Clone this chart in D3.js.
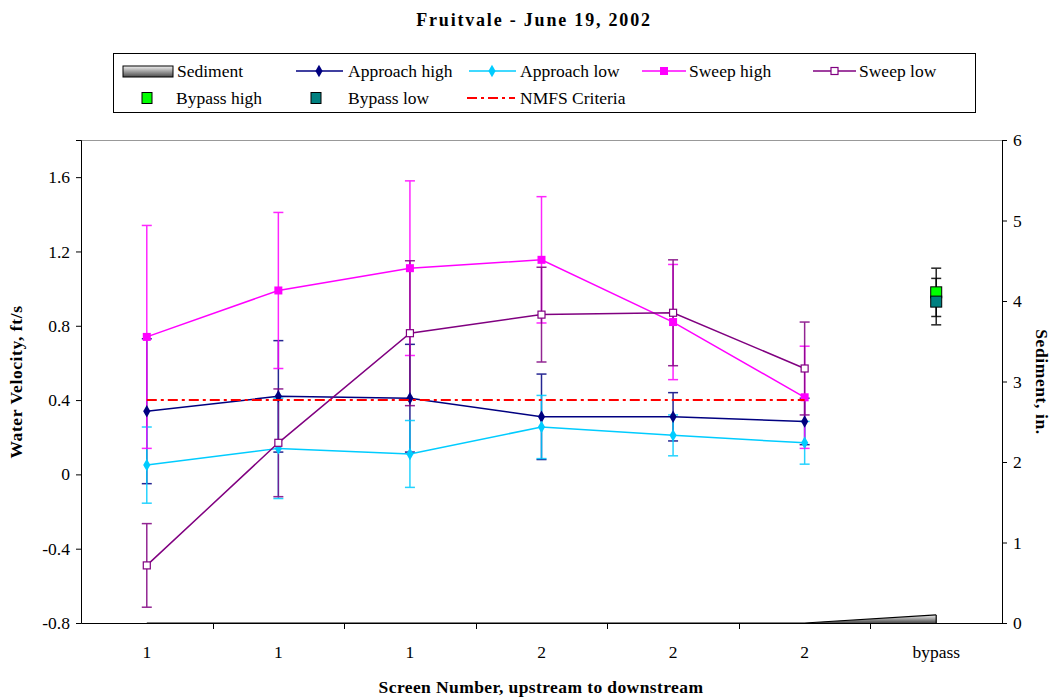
<!DOCTYPE html>
<html><head><meta charset="utf-8">
<script src="https://cdn.jsdelivr.net/npm/d3@7"></script>
<style>body{margin:0;background:#fff}svg{display:block}text{font-family:"Liberation Serif","Times New Roman",serif}</style>
</head><body><svg id="c" width="1055" height="698"></svg>
<script>
const categories = ["1","1","1","2","2","2","bypass"];
const approachHigh = [0.34,0.42,0.41,0.31,0.31,0.285];
const approachHighErr = [0.39,0.30,0.29,0.23,0.13,0.125];
const approachLow = [0.05,0.14,0.11,0.255,0.21,0.17];
const approachLowErr = [0.205,0.27,0.18,0.17,0.11,0.115];
const sweepHigh = [0.74,0.99,1.11,1.155,0.82,0.415];
const sweepHighErr = [0.60,0.42,0.47,0.34,0.31,0.275];
const sweepLow = [-0.49,0.17,0.76,0.86,0.87,0.57];
const sweepLowErr = [0.225,0.29,0.39,0.255,0.285,0.25];
const bypassHigh = [0.98]; const bypassHighErr = [0.13];
const bypassLow = [0.93]; const bypassLowErr = [0.125];
const sediment = [0,0,0,0,0,0,0.1];
const nmfs = [0.4,0.4,0.4,0.4,0.4,0.4];
const leftTicks = [-0.8,-0.4,0,0.4,0.8,1.2,1.6];
const leftTickLabels = ["-0.8","-0.4","0","0.4","0.8","1.2","1.6"];
const rightTicks = [0,1,2,3,4,5,6];

const svg = d3.select("#c");
const L=81,R=1002,T=140,B=623;
const x = d3.scaleBand().domain(d3.range(categories.length)).range([L,R]);
const cx = i => x(i)+x.bandwidth()/2;
const y = d3.scaleLinear().domain([-0.8,1.8]).range([B,T]);
const y2 = d3.scaleLinear().domain([0,6]).range([B,T]);

const defs = svg.append("defs");
const g1 = defs.append("linearGradient").attr("id","sed").attr("x1",0).attr("y1",0).attr("x2",0).attr("y2",1);
g1.append("stop").attr("offset","0%").attr("stop-color","#f2f2f2");
g1.append("stop").attr("offset","100%").attr("stop-color","#4a4a4a");

// title
svg.append("text").attr("x",534).attr("y",26).attr("text-anchor","middle").attr("font-size",18).attr("font-weight","bold").attr("letter-spacing","1.8px").text("Fruitvale - June 19, 2002");

// plot frame top
svg.append("line").attr("x1",L).attr("x2",R).attr("y1",T+0.5).attr("y2",T+0.5).attr("stroke","#999");

// sediment area
const area = d3.area().x((d,i)=>cx(i)).y0(y2(0)).y1(d=>y2(d));
svg.append("path").datum(sediment).attr("d",area).attr("fill","url(#sed)");
const lastI = sediment.length-1;
svg.append("path").datum(sediment).attr("d",d3.line().x((d,i)=>cx(i)).y(d=>y2(d))).attr("fill","none").attr("stroke","#000").attr("stroke-width",1.2);
svg.append("line").attr("x1",cx(lastI)).attr("x2",cx(lastI)).attr("y1",y2(sediment[lastI])).attr("y2",y2(0)).attr("stroke","#000").attr("stroke-width",1.2);

// axes
const ax = svg.append("g").attr("transform",`translate(0,${B})`).call(d3.axisBottom(x).tickSize(0).tickFormat(i=>categories[i]));
ax.select(".domain").attr("stroke","#000");
ax.selectAll("text").attr("font-size",17.5).attr("dy","1.85em").attr("fill","#000");
svg.append("g").selectAll("line").data(d3.range(1,categories.length)).join("line")
  .attr("x1",i=>Math.round(x(i))+0.5).attr("x2",i=>Math.round(x(i))+0.5).attr("y1",B).attr("y2",B+6).attr("stroke","#000");

const ay = svg.append("g").attr("transform",`translate(${L},0)`).call(d3.axisLeft(y).tickValues(leftTicks).tickSize(5).tickFormat((d,i)=>leftTickLabels[i]));
ay.select(".domain").attr("stroke","#000");
ay.selectAll("text").attr("font-size",17.5).attr("x",-11).attr("fill","#000");
ay.selectAll(".tick line").attr("stroke","#000");
const ay2 = svg.append("g").attr("transform",`translate(${R},0)`).call(d3.axisRight(y2).tickValues(rightTicks).tickSize(5).tickFormat(d3.format("d")));
ay2.select(".domain").attr("stroke","#000");
ay2.selectAll("text").attr("font-size",17.5).attr("x",11).attr("fill","#000");
ay2.selectAll(".tick line").attr("stroke","#000");

// axis titles
svg.append("text").attr("transform","translate(22,382) rotate(-90)").attr("text-anchor","middle").attr("font-size",17.5).attr("font-weight","bold").attr("letter-spacing","0.6px").text("Water Velocity, ft/s");
svg.append("text").attr("transform","translate(1036,382) rotate(90)").attr("text-anchor","middle").attr("font-size",17.5).attr("font-weight","bold").attr("letter-spacing","0.6px").text("Sediment, in.");
svg.append("text").attr("x",541).attr("y",693).attr("text-anchor","middle").attr("font-size",17.5).attr("font-weight","bold").attr("letter-spacing","0.4px").text("Screen Number, upstream to downstream");

function errBars(vals, errs, color, offset=0){
  const g = svg.append("g").attr("stroke",color).attr("stroke-width",1.5).attr("opacity",0.85);
  vals.forEach((v,i)=>{
    const xx = cx(i+offset);
    g.append("line").attr("x1",xx).attr("x2",xx).attr("y1",y(v+errs[i])).attr("y2",y(v-errs[i]));
    [v+errs[i], v-errs[i]].forEach(e=>g.append("line").attr("x1",xx-5).attr("x2",xx+5).attr("y1",y(e)).attr("y2",y(e)));
  });
}
function series(vals, color){
  svg.append("path").datum(vals).attr("d",d3.line().x((d,i)=>cx(i)).y(d=>y(d))).attr("fill","none").attr("stroke",color).attr("stroke-width",1.5);
}
const diamond = d3.symbol().type(d3.symbolDiamond).size(45);

errBars(approachHigh, approachHighErr, "#000080");
errBars(approachLow, approachLowErr, "#00CCFF");
errBars(sweepHigh, sweepHighErr, "#FF00FF");
errBars(sweepLow, sweepLowErr, "#800080");

series(approachHigh,"#000080");
svg.append("g").selectAll("path").data(approachHigh).join("path").attr("d",diamond).attr("transform",(d,i)=>`translate(${cx(i)},${y(d)})`).attr("fill","#000080");
series(approachLow,"#00CCFF");
svg.append("g").selectAll("path").data(approachLow).join("path").attr("d",diamond).attr("transform",(d,i)=>`translate(${cx(i)},${y(d)})`).attr("fill","#00CCFF");
series(sweepHigh,"#FF00FF");
svg.append("g").selectAll("rect").data(sweepHigh).join("rect").attr("x",(d,i)=>cx(i)-4).attr("y",d=>y(d)-4).attr("width",8).attr("height",8).attr("fill","#FF00FF");
series(sweepLow,"#800080");
svg.append("g").selectAll("rect").data(sweepLow).join("rect").attr("x",(d,i)=>cx(i)-3.5).attr("y",d=>y(d)-3.5).attr("width",7).attr("height",7).attr("fill","#fff").attr("stroke","#800080").attr("stroke-width",1.2);

// NMFS
svg.append("path").datum(nmfs).attr("d",d3.line().x((d,i)=>cx(i)).y(d=>y(d))).attr("fill","none").attr("stroke","#FF0000").attr("stroke-width",2).attr("stroke-dasharray","10,4,3,4");

// bypass
errBars(bypassHigh, bypassHighErr, "#000", 6);
errBars(bypassLow, bypassLowErr, "#000", 6);
svg.append("g").selectAll("rect").data(bypassHigh).join("rect").attr("x",cx(6)-5.5).attr("y",d=>y(d)-5.5).attr("width",11).attr("height",11).attr("fill","#00FF00").attr("stroke","#000");
svg.append("g").selectAll("rect").data(bypassLow).join("rect").attr("x",cx(6)-5.5).attr("y",d=>y(d)-5.5).attr("width",11).attr("height",11).attr("fill","#008080").attr("stroke","#000");

// legend
const lg = svg.append("g");
lg.append("rect").attr("x",113.5).attr("y",53.5).attr("width",862).attr("height",59).attr("fill","#fff").attr("stroke","#000");
const row1=71,row2=98;
lg.append("rect").attr("x",123).attr("y",row1-5).attr("width",50).attr("height",11).attr("fill","url(#sed)").attr("stroke","#000");
function lgLine(x1,x2,yy,color,dash){lg.append("line").attr("x1",x1).attr("x2",x2).attr("y1",yy).attr("y2",yy).attr("stroke",color).attr("stroke-width",dash?2:1.5).attr("stroke-dasharray",dash||null);}
function lgText(xx,yy,t){lg.append("text").attr("x",xx).attr("y",yy+5.5).attr("font-size",17.5).text(t);}
lgText(177,row1,"Sediment");
lgLine(296,343,row1,"#000080"); lg.append("path").attr("d",diamond).attr("transform",`translate(319,${row1})`).attr("fill","#000080"); lgText(348,row1,"Approach high");
lgLine(469,516,row1,"#00CCFF"); lg.append("path").attr("d",diamond).attr("transform",`translate(492,${row1})`).attr("fill","#00CCFF"); lgText(520,row1,"Approach low");
lgLine(642,686,row1,"#FF00FF"); lg.append("rect").attr("x",660).attr("y",row1-4).attr("width",8).attr("height",8).attr("fill","#FF00FF"); lgText(689,row1,"Sweep high");
lgLine(813,856,row1,"#800080"); lg.append("rect").attr("x",831).attr("y",row1-3.5).attr("width",7).attr("height",7).attr("fill","#fff").attr("stroke","#800080").attr("stroke-width",1.2); lgText(859,row1,"Sweep low");
lg.append("rect").attr("x",142).attr("y",row2-5.5).attr("width",10).attr("height",11).attr("fill","#00FF00").attr("stroke","#000"); lgText(176,row2,"Bypass high");
lg.append("rect").attr("x",311).attr("y",row2-5.5).attr("width",10).attr("height",11).attr("fill","#008080").attr("stroke","#000"); lgText(348,row2,"Bypass low");
lgLine(467,515,row2,"#FF0000","10,4,3,4"); lgText(520,row2,"NMFS Criteria");
</script></body></html>
